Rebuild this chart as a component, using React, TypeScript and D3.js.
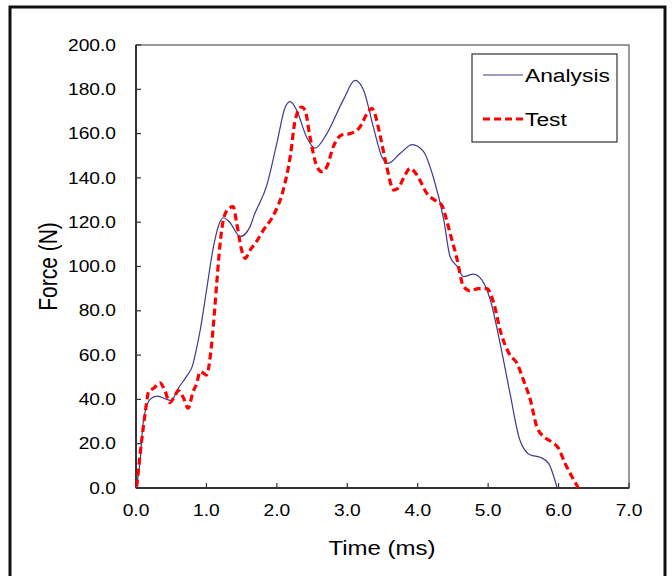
import React from "react";
import * as d3 from "d3";

const analysisT = [0, 0.06, 0.1, 0.2, 0.3, 0.44, 0.5, 0.6, 0.72, 0.8, 0.86, 0.91, 1.0, 1.1, 1.19, 1.24, 1.33, 1.48, 1.62, 1.67, 1.86, 2.0, 2.12, 2.19, 2.28, 2.42, 2.54, 2.71, 2.94, 3.11, 3.23, 3.37, 3.49, 3.58, 3.75, 3.92, 4.08, 4.22, 4.37, 4.46, 4.56, 4.65, 4.79, 4.91, 5.03, 5.17, 5.31, 5.45, 5.6, 5.74, 5.86, 5.98];
const analysisF = [0, 12.6, 29, 40, 41.5, 40, 39.5, 45, 50.5, 55, 63, 71, 89, 109, 120, 122, 120, 113.5, 118, 122.5, 137, 155.7, 172, 174.4, 170.6, 158.6, 153.4, 160, 175, 184, 179.7, 163, 149.6, 146.6, 151, 155, 152, 140.5, 121, 104.4, 100, 95.4, 96.6, 94, 85, 65.3, 42.8, 21.7, 14.9, 13.9, 11, 0];

const testT = [0.01, 0.06, 0.13, 0.18, 0.25, 0.34, 0.41, 0.48, 0.55, 0.6, 0.67, 0.74, 0.81, 0.86, 0.91, 0.95, 1.0, 1.07, 1.1, 1.15, 1.19, 1.24, 1.31, 1.38, 1.43, 1.5, 1.55, 1.62, 1.71, 1.81, 1.95, 2.09, 2.19, 2.26, 2.35, 2.4, 2.47, 2.57, 2.64, 2.71, 2.8, 2.92, 3.04, 3.18, 3.28, 3.35, 3.39, 3.47, 3.56, 3.66, 3.72, 3.82, 3.89, 3.99, 4.13, 4.27, 4.34, 4.41, 4.46, 4.55, 4.65, 4.74, 4.86, 4.98, 5.08, 5.17, 5.31, 5.41, 5.5, 5.6, 5.69, 5.79, 5.93, 6.0, 6.09, 6.19, 6.28];
const testF = [0.6, 15.7, 33.8, 43.5, 45, 47.5, 44, 38.5, 41.5, 44, 41, 36, 43.5, 47, 52.5, 52, 51, 63.8, 74, 94, 109, 121, 126, 127, 119.5, 107.4, 103.7, 107.4, 111.2, 116.5, 123, 134.5, 149.6, 166, 172, 170.6, 158.6, 145, 142.8, 145, 154, 159.4, 160, 163, 169, 171.4, 169, 158.6, 145, 134.5, 135.3, 141.3, 144.3, 141.3, 133, 129.3, 127.8, 121, 115, 104.4, 91, 89, 90, 90, 83.4, 71.3, 60, 56.3, 48.8, 39.7, 27.7, 23.2, 20.2, 17.9, 11.2, 5.1, 0];

const xTicks = [0, 1, 2, 3, 4, 5, 6, 7];
const yTicks = [0, 20, 40, 60, 80, 100, 120, 140, 160, 180, 200];
const seriesNames = ["Analysis", "Test"];

export default function App() {
  const left = 136, right = 629, top = 45, bottom = 488;
  const x = d3.scaleLinear().domain([0, 7]).range([left, right]);
  const y = d3.scaleLinear().domain([0, 200]).range([bottom, top]);
  const line = d3
    .line<[number, number]>()
    .x((d) => x(d[0]))
    .y((d) => y(d[1]))
    .curve(d3.curveMonotoneX);
  const aPath = line(analysisT.map((t, i) => [t, analysisF[i]]) as [number, number][]) || "";
  const tPath = line(testT.map((t, i) => [t, testF[i]]) as [number, number][]) || "";
  const font = "Liberation Sans, Arial, sans-serif";
  const sx = 1.2;
  return (
    <svg
      width={672}
      height={576}
      style={{ position: "absolute", left: 0, top: 0, background: "#fff" }}
      fontFamily={font}
    >
      <rect x={0} y={0} width={672} height={576} fill="#fff" />
      <rect x={10} y={7} width={655} height={580} fill="none" stroke="#111" strokeWidth={3} />
      <rect x={left} y={top} width={right - left} height={bottom - top} fill="none" stroke="#555" strokeWidth={1.2} />
      <line x1={left} y1={top} x2={left} y2={bottom} stroke="#333" strokeWidth={2} />
      <line x1={left} y1={bottom} x2={right} y2={bottom} stroke="#333" strokeWidth={2} />
      {yTicks.map((v) => (
        <g key={"y" + v}>
          <line x1={left} x2={left + 5} y1={y(v)} y2={y(v)} stroke="#333" strokeWidth={1.2} />
          <text transform={`translate(116,${y(v)}) scale(${sx},1)`} dy="0.35em" textAnchor="end" fontSize={16} fill="#000">
            {v.toFixed(1)}
          </text>
        </g>
      ))}
      {xTicks.map((v) => (
        <g key={"x" + v}>
          <line x1={x(v)} x2={x(v)} y1={bottom} y2={bottom - 5} stroke="#333" strokeWidth={1.2} />
          <text transform={`translate(${x(v)},510) scale(${sx},1)`} dy="0.35em" textAnchor="middle" fontSize={16} fill="#000">
            {v.toFixed(1)}
          </text>
        </g>
      ))}
      <text transform={`translate(382,548) scale(${sx},1)`} dy="0.35em" textAnchor="middle" fontSize={20} fill="#000">
        Time (ms)
      </text>
      <text
        transform={`translate(48,${(top + bottom) / 2}) scale(${sx},1) rotate(-90)`}
        dy="0.35em"
        textAnchor="middle"
        fontSize={21}
        fill="#000"
      >
        Force (N)
      </text>
      <path d={aPath} fill="none" stroke="#3b3b8c" strokeWidth={1.2} />
      <path d={tPath} fill="none" stroke="#ff0000" strokeWidth={3.2} strokeDasharray="7,4" />
      <rect x={472} y={54} width={145} height={88} fill="#fff" stroke="#333" strokeWidth={1.2} />
      <line x1={483} x2={523} y1={75} y2={75} stroke="#3b3b8c" strokeWidth={1.2} />
      <text transform={`translate(525,75) scale(${sx},1)`} dy="0.35em" fontSize={19} fill="#000">
        {seriesNames[0]}
      </text>
      <line x1={483} x2={523} y1={119} y2={119} stroke="#ff0000" strokeWidth={3.2} strokeDasharray="7,4" />
      <text transform={`translate(525,119) scale(${sx},1)`} dy="0.35em" fontSize={19} fill="#000">
        {seriesNames[1]}
      </text>
    </svg>
  );
}
